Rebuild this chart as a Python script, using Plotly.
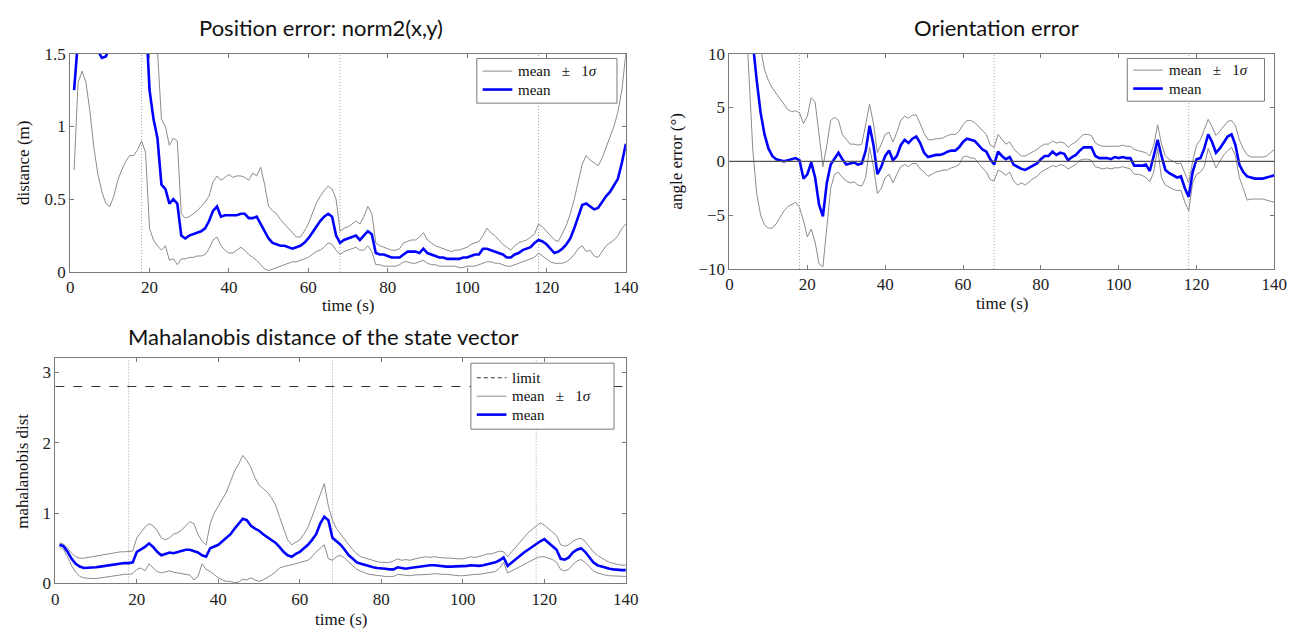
import plotly.graph_objects as go

# ---------------------------------------------------------------- data
TIME = list(range(1, 141))
EVENTS = [18, 68, 118]
LIMIT = 2.8

pos_mean = [1.25, 1.6, 1.75, 1.75, 1.7, 1.6, 1.52, 1.47, 1.48, 1.55,
            1.65, 1.75, 1.8, 1.85, 1.9, 1.95, 2.0, 2.0, 1.8, 1.25,
            1.05, 0.92, 0.6, 0.57, 0.47, 0.5, 0.47, 0.25, 0.23, 0.25,
            0.26, 0.27, 0.28, 0.3, 0.35, 0.42, 0.45, 0.38, 0.39, 0.39,
            0.39, 0.39, 0.4, 0.4, 0.37, 0.37, 0.38, 0.33, 0.27, 0.23,
            0.2, 0.19, 0.18, 0.18, 0.17, 0.16, 0.17, 0.18, 0.2, 0.23,
            0.27, 0.31, 0.35, 0.38, 0.4, 0.38, 0.25, 0.2, 0.22, 0.23,
            0.24, 0.25, 0.22, 0.25, 0.28, 0.26, 0.13, 0.12, 0.12, 0.11,
            0.1, 0.1, 0.1, 0.12, 0.14, 0.14, 0.14, 0.13, 0.16, 0.13,
            0.12, 0.11, 0.1, 0.1, 0.09, 0.09, 0.09, 0.09, 0.1, 0.1,
            0.11, 0.12, 0.12, 0.16, 0.16, 0.15, 0.14, 0.13, 0.12, 0.1,
            0.1, 0.12, 0.13, 0.15, 0.16, 0.17, 0.2, 0.22, 0.21, 0.19,
            0.16, 0.13, 0.14, 0.16, 0.19, 0.23, 0.3, 0.38, 0.46, 0.47,
            0.45, 0.43, 0.44, 0.48, 0.52, 0.55, 0.6, 0.64, 0.75, 0.88]
pos_upper = [3.0, 3.2, 3.3, 3.2, 3.0, 2.8, 2.6, 2.5, 2.5, 2.6,
             2.7, 2.8, 2.9, 3.0, 3.0, 3.1, 3.1, 3.1, 2.9, 2.5,
             2.0, 1.5, 1.05, 1.0, 0.87, 0.92, 0.9, 0.4, 0.37, 0.38,
             0.4, 0.42, 0.45, 0.48, 0.52, 0.62, 0.66, 0.63, 0.65, 0.67,
             0.65, 0.66, 0.66, 0.65, 0.63, 0.68, 0.66, 0.72, 0.6, 0.45,
             0.42, 0.4, 0.36, 0.33, 0.3, 0.27, 0.24, 0.24, 0.28, 0.33,
             0.4, 0.47, 0.52, 0.56, 0.59, 0.57, 0.5, 0.28, 0.3, 0.31,
             0.33, 0.35, 0.33, 0.38, 0.45, 0.4, 0.2, 0.18, 0.17, 0.16,
             0.15, 0.15, 0.16, 0.2, 0.21, 0.22, 0.22, 0.24, 0.27, 0.22,
             0.2, 0.18, 0.17, 0.16, 0.15, 0.14, 0.15, 0.15, 0.16, 0.17,
             0.19, 0.2, 0.21, 0.25, 0.3, 0.27, 0.25, 0.22, 0.19, 0.17,
             0.15, 0.18, 0.2, 0.21, 0.22, 0.24, 0.26, 0.33, 0.31, 0.28,
             0.25, 0.22, 0.21, 0.26, 0.32, 0.4, 0.5, 0.62, 0.74, 0.8,
             0.77, 0.75, 0.73, 0.78, 0.85, 0.92, 1.0, 1.1, 1.25, 1.5]
pos_lower = [0.7, 1.3, 1.38, 1.3, 1.1, 0.85, 0.67, 0.55, 0.47, 0.45,
             0.52, 0.63, 0.7, 0.76, 0.8, 0.8, 0.84, 0.9, 0.82, 0.3,
             0.22, 0.18, 0.15, 0.18, 0.08, 0.09, 0.05, 0.09, 0.09, 0.1,
             0.1, 0.11, 0.11, 0.12, 0.16, 0.22, 0.24, 0.18, 0.15, 0.13,
             0.13, 0.15, 0.17, 0.15, 0.12, 0.1, 0.08, 0.05, 0.02, 0.01,
             0.02, 0.03, 0.04, 0.05, 0.06, 0.07, 0.07, 0.08, 0.09, 0.1,
             0.12, 0.14, 0.15, 0.17, 0.2, 0.19, 0.15, 0.12, 0.14, 0.15,
             0.16, 0.17, 0.15, 0.15, 0.18, 0.14, 0.05, 0.05, 0.04, 0.04,
             0.04, 0.04, 0.05, 0.07, 0.07, 0.06, 0.06, 0.07, 0.08, 0.06,
             0.05, 0.05, 0.04, 0.04, 0.04, 0.04, 0.04, 0.03, 0.03, 0.04,
             0.04, 0.04, 0.05, 0.06, 0.07, 0.07, 0.06, 0.06, 0.05, 0.04,
             0.04, 0.05, 0.06, 0.07, 0.08, 0.09, 0.1, 0.13, 0.11, 0.09,
             0.07, 0.06, 0.06, 0.06, 0.07, 0.09, 0.12, 0.16, 0.18, 0.14,
             0.15, 0.11, 0.1, 0.14, 0.18, 0.2, 0.22, 0.25, 0.3, 0.33]

ang_mean = [30, 25, 20, 16, 13, 11, 7.5, 4.5, 2.5, 1.2,
            0.5, 0.2, 0.1, 0.0, 0.1, 0.2, 0.3, 0.1, -1.6, -1.2,
            -0.1, -1.5, -4.0, -5.1, -2.0, -0.3, 0.2, 0.8, 0.2, -0.3,
            -0.2, -0.1, -0.3, -0.2, 1.0, 3.3, 1.5, -1.2, -0.5, 0.5,
            1.0, 0.1, 0.5, 1.5, 2.0, 1.7, 2.1, 2.3, 1.7, 0.8,
            0.4, 0.5, 0.6, 0.6, 0.7, 0.9, 1.0, 1.0, 1.3, 1.8,
            2.1, 2.0, 1.9, 1.5, 1.1, 0.9, 0.2, -0.3, 0.9, 0.5,
            0.2, 0.4, -0.3, -0.5, -0.7, -0.8, -0.6, -0.4, -0.2, 0.2,
            0.5, 0.5, 0.9, 0.6, 0.8, 0.7, 0.1, 0.4, 0.6, 1.0,
            1.3, 1.3, 1.3, 0.5, 0.3, 0.3, 0.3, 0.2, 0.4, 0.3,
            0.4, 0.3, 0.3, -0.4, -0.4, -0.4, -0.3, -0.9, 0.5, 2.0,
            0.5, -0.8, -1.1, -1.3, -1.5, -1.4, -2.5, -3.3, -1.0, 0.2,
            0.3, 1.2, 2.5, 1.8, 0.8, 1.2, 1.8, 2.3, 2.5, 1.5,
            -0.3, -1.0, -1.4, -1.5, -1.6, -1.6, -1.6, -1.5, -1.4, -1.3]
ang_upper = [60, 50, 40, 30, 22, 18, 13, 10.5, 8.5, 7.5,
             6.8, 6.3, 5.8, 5.2, 4.8, 4.6, 4.7, 4.5, 3.5, 4.2,
             5.9, 5.5, 2.5, -0.5, 1.5, 3.8, 4.1, 3.8, 2.5, 2.0,
             1.6, 1.6, 1.5, 1.6, 3.5, 5.3, 3.5, 0.8, 1.6, 2.5,
             2.7, 1.8, 2.7, 3.8, 4.2, 4.0, 4.3, 4.3, 3.5, 2.6,
             2.0, 2.0, 2.1, 2.1, 2.2, 2.4, 2.5, 2.5, 2.8, 3.4,
             3.8, 3.8, 3.6, 3.2, 2.8, 2.5, 1.5, 1.3, 2.5, 2.0,
             1.6, 1.8, 1.2, 0.8, 0.5, 0.5, 0.7, 0.9, 1.1, 1.4,
             1.6, 1.6, 1.9, 1.7, 1.8, 1.7, 1.3, 1.6, 1.8, 2.2,
             2.5, 2.5, 2.4, 1.7, 1.5, 1.4, 1.4, 1.4, 1.4, 1.4,
             1.5, 1.4, 1.4, 1.1, 1.0, 0.9, 0.8, 0.5, 1.5, 3.4,
             1.6, 0.5, 0.2, 0.0, -0.2, -0.2, -1.2, -2.0, 0.0, 1.5,
             2.0, 3.0, 3.9, 3.2, 2.4, 2.8, 3.3, 3.7, 3.8, 3.3,
             2.0, 1.2, 0.6, 0.4, 0.4, 0.4, 0.4, 0.5, 0.8, 1.1]
ang_lower = [40, 35, 25, 15, 8, 1, -3, -5, -5.9, -6.2,
             -6.2, -5.8, -5.2, -4.6, -4.2, -4.0, -3.8, -4.3, -5.5, -7.0,
             -6.3, -7.5, -9.5, -9.8, -6.0, -2.5, -1.2, -1.0, -1.5, -1.8,
             -2.0, -1.9, -2.2, -2.3, -1.5, 1.3, -0.5, -3.0, -2.5, -1.5,
             -1.2, -2.0, -1.2, -0.5, -0.3, -0.5, -0.2, -0.2, -0.7, -1.0,
             -1.4, -1.2, -1.0, -0.9, -0.8, -0.8, -0.6, -0.5, -0.3, 0.4,
             0.5, 0.3, 0.3, -0.2, -0.6, -1.0, -1.7, -1.8, -0.8, -1.0,
             -1.3, -1.0, -1.8, -2.2, -2.0, -2.2, -1.9, -1.6, -1.4, -1.0,
             -0.8, -0.6, -0.4, -0.5, -0.3, -0.4, -0.7, -0.5, -0.3, 0.1,
             0.2, 0.2, 0.1, -0.5, -0.6, -0.7, -0.6, -0.7, -0.6, -0.6,
             -0.5, -0.6, -0.7, -1.2, -1.2, -1.3, -1.5, -1.9, -1.0, 1.2,
             -1.5, -2.2, -2.4, -2.6, -2.7, -2.7, -3.8, -4.6, -2.0, -1.2,
             -1.0, -0.5, 1.2, 0.3, -0.6, 0.0, 0.6, 1.0, 1.3, 0.5,
             -1.5, -2.5, -3.6, -3.5, -3.5, -3.5, -3.5, -3.6, -3.7, -3.8]

mah_mean = [0.55, 0.53, 0.45, 0.35, 0.28, 0.24, 0.22, 0.22, 0.22, 0.23,
            0.24, 0.25, 0.26, 0.27, 0.28, 0.28, 0.29, 0.29, 0.3, 0.45,
            0.48, 0.52, 0.57, 0.52, 0.45, 0.4, 0.42, 0.44, 0.43, 0.45,
            0.47, 0.48, 0.48, 0.46, 0.44, 0.4, 0.38, 0.5, 0.52, 0.55,
            0.6, 0.65, 0.7, 0.78, 0.85, 0.92, 0.9, 0.82, 0.78, 0.75,
            0.7, 0.66, 0.62, 0.58, 0.52, 0.45, 0.4, 0.38, 0.42, 0.45,
            0.5, 0.55, 0.62, 0.7, 0.85, 0.95, 0.9, 0.65, 0.6, 0.55,
            0.48, 0.4, 0.35, 0.3, 0.28, 0.26, 0.24, 0.23, 0.22, 0.22,
            0.21, 0.2, 0.2, 0.23, 0.22, 0.21, 0.22, 0.23, 0.24, 0.25,
            0.26, 0.26, 0.26, 0.25, 0.25, 0.24, 0.24, 0.24, 0.24, 0.24,
            0.25, 0.26, 0.25, 0.25, 0.26, 0.27, 0.28, 0.3, 0.33, 0.37,
            0.25, 0.3, 0.35, 0.4, 0.44, 0.48, 0.52, 0.57, 0.6, 0.63,
            0.58, 0.53, 0.48, 0.35, 0.34, 0.37, 0.44, 0.48, 0.5, 0.45,
            0.37, 0.3, 0.26, 0.24, 0.22, 0.21, 0.2, 0.19, 0.19, 0.19]
mah_upper = [0.58, 0.56, 0.5, 0.43, 0.38, 0.36, 0.36, 0.37, 0.38, 0.4,
             0.41, 0.42, 0.43, 0.44, 0.44, 0.45, 0.45, 0.45, 0.46, 0.65,
             0.72, 0.8, 0.85, 0.82, 0.75, 0.65, 0.62, 0.65, 0.7, 0.72,
             0.76, 0.82, 0.88, 0.85, 0.7, 0.6, 0.55, 0.85, 1.0, 1.1,
             1.2, 1.3, 1.45, 1.6, 1.7, 1.82, 1.75, 1.65, 1.5, 1.4,
             1.35, 1.3, 1.22, 1.12, 0.95, 0.78, 0.62, 0.55, 0.58, 0.62,
             0.7, 0.8, 0.95, 1.1, 1.25, 1.42, 1.1, 0.9, 0.78, 0.7,
             0.62, 0.55, 0.48, 0.42, 0.38, 0.36, 0.34, 0.32, 0.31, 0.3,
             0.3, 0.3, 0.32, 0.35, 0.33, 0.34, 0.33, 0.35, 0.36, 0.37,
             0.38, 0.37, 0.38, 0.37, 0.36, 0.36, 0.36, 0.35, 0.35, 0.35,
             0.36, 0.38, 0.37, 0.38, 0.4, 0.42, 0.42, 0.44, 0.46, 0.45,
             0.38, 0.45, 0.52, 0.58, 0.65, 0.72, 0.77, 0.82, 0.86, 0.83,
             0.78, 0.72, 0.68, 0.55, 0.53, 0.55, 0.6, 0.63, 0.64, 0.6,
             0.52, 0.45, 0.4, 0.36, 0.33, 0.3, 0.28, 0.27, 0.26, 0.26]
mah_lower = [0.52, 0.48, 0.38, 0.25, 0.16, 0.1, 0.08, 0.07, 0.07, 0.07,
             0.08, 0.09, 0.1, 0.11, 0.12, 0.13, 0.13, 0.13, 0.14, 0.2,
             0.22, 0.18, 0.28, 0.22, 0.17, 0.15, 0.17, 0.18, 0.16, 0.15,
             0.14, 0.14, 0.12, 0.05, 0.1, 0.28, 0.2, 0.17, 0.12, 0.08,
             0.05, 0.03, 0.03, 0.01, 0.02, 0.06, 0.05, 0.08, 0.05, 0.03,
             0.05, 0.08, 0.12, 0.16, 0.22, 0.24, 0.25, 0.26, 0.28, 0.3,
             0.32, 0.33, 0.38, 0.45, 0.5, 0.55, 0.35, 0.33, 0.38, 0.4,
             0.36, 0.3, 0.25, 0.2, 0.17, 0.15, 0.13, 0.12, 0.11, 0.11,
             0.1, 0.1, 0.1, 0.13, 0.12, 0.11, 0.11, 0.12, 0.12, 0.13,
             0.13, 0.13, 0.14, 0.13, 0.13, 0.13, 0.12, 0.12, 0.11, 0.11,
             0.12, 0.13, 0.13, 0.13, 0.14, 0.15, 0.16, 0.17, 0.22, 0.3,
             0.15, 0.18, 0.22, 0.25, 0.27, 0.3, 0.33, 0.36, 0.38, 0.38,
             0.36, 0.34, 0.3, 0.2, 0.18, 0.2, 0.27, 0.32, 0.34, 0.3,
             0.24, 0.18, 0.15, 0.13, 0.12, 0.11, 0.11, 0.1, 0.1, 0.1]

X_TICKS = [0, 20, 40, 60, 80, 100, 120, 140]

# ---------------------------------------------------------------- style
W, H = 1315, 642
SERIF = "Liberation Serif"
SANS = "Lato"
BLUE = "#0000ff"
GREY = "#8c8c8c"
FRAME = "#7a7a7a"
NB = "\u00a0"
SIGMA_LABEL = f"mean{NB*3}±{NB*3}1<i>σ</i>"


def dom_x(left, right):
    return [left / W, right / W]


def dom_y(top, bottom):
    return [1 - bottom / H, 1 - top / H]


fig = go.Figure()


def add_band(t, upper, lower, mean, xa, ya):
    fig.add_trace(go.Scatter(x=t, y=upper, mode="lines", name="mean + 1σ",
                             line=dict(color=GREY, width=1), xaxis=xa, yaxis=ya))
    fig.add_trace(go.Scatter(x=t, y=lower, mode="lines", name="mean − 1σ",
                             line=dict(color=GREY, width=1), xaxis=xa, yaxis=ya))
    fig.add_trace(go.Scatter(x=t, y=mean, mode="lines", name="mean",
                             line=dict(color=BLUE, width=2.6), xaxis=xa, yaxis=ya))


add_band(TIME, pos_upper, pos_lower, pos_mean, "x", "y")
add_band(TIME, ang_upper, ang_lower, ang_mean, "x2", "y2")
fig.add_trace(go.Scatter(x=[0, 140], y=[LIMIT, LIMIT], mode="lines", name="limit",
                         line=dict(color="#333333", width=1.2, dash="dash"),
                         xaxis="x3", yaxis="y3"))
add_band(TIME, mah_upper, mah_lower, mah_mean, "x3", "y3")

axis_common = dict(showline=True, linecolor=FRAME, linewidth=1, mirror="ticks",
                   ticks="inside", ticklen=4, tickcolor=FRAME, showgrid=False,
                   zeroline=False, tickfont=dict(family=SERIF, size=17, color="#222"))

fig.update_layout(
    width=W, height=H, margin=dict(l=0, r=0, t=0, b=0),
    paper_bgcolor="white", plot_bgcolor="white", showlegend=False,
    font=dict(family=SERIF, size=17, color="#222"),
    xaxis=dict(domain=dom_x(67, 630), range=[0, 140], tickvals=X_TICKS, anchor="y", **axis_common),
    yaxis=dict(domain=dom_y(46, 271), range=[0, 1.5], tickvals=[0, 0.5, 1, 1.5],
               ticktext=["0", "0.5", "1", "1.5"], anchor="x", **axis_common),
    xaxis2=dict(domain=dom_x(735, 1287), range=[0, 140], tickvals=X_TICKS, anchor="y2", **axis_common),
    yaxis2=dict(domain=dom_y(46, 268), range=[-10, 10], tickvals=[-10, -5, 0, 5, 10],
                ticktext=["\u221210", "\u22125", "0", "5", "10"], anchor="x2", **axis_common),
    xaxis3=dict(domain=dom_x(52, 630), range=[0, 140], tickvals=X_TICKS, anchor="y3", **axis_common),
    yaxis3=dict(domain=dom_y(360, 592), range=[0, 3.2], tickvals=[0, 1, 2, 3], anchor="x3", **axis_common),
)

shapes = []
ann = []

# event markers (dotted verticals) and reference lines
for xa, ya in (("x", "y"), ("x2", "y2"), ("x3", "y3")):
    for ev in EVENTS:
        shapes.append(dict(type="line", xref=xa, yref=f"{ya} domain", x0=ev, x1=ev, y0=0, y1=1,
                           line=dict(color="#a0a0a0", width=1, dash="1px,2px"), layer="below"))
shapes.append(dict(type="line", xref="x2 domain", yref="y2", x0=0, x1=1, y0=0, y1=0,
                   line=dict(color="#555555", width=1.2)))


def px_shape(kind, x0, y0, x1, y1, line, fill=None):
    d = dict(type=kind, xref="paper", yref="paper", x0=x0 / W, x1=x1 / W,
             y0=1 - y0 / H, y1=1 - y1 / H, line=line, layer="above")
    if fill:
        d["fillcolor"] = fill
    shapes.append(d)


def label(text, x, y, size, family, angle=0, anchor="center"):
    ann.append(dict(text=text, x=x / W, y=1 - y / H, xref="paper", yref="paper",
                    showarrow=False, textangle=angle, xanchor=anchor, yanchor="middle",
                    font=dict(family=family, size=size, color="#111")))


# legend boxes
def legend_box(x0, y0, x1, y1, entries):
    px_shape("rect", x0, y0, x1, y1, dict(color=FRAME, width=1), fill="white")
    for text, y, line in entries:
        px_shape("line", x0 + 6, y, x0 + 36, y, line)
        label(text, x0 + 40, y, 15, SERIF, anchor="left")


grey_line = dict(color=GREY, width=1)
blue_line = dict(color=BLUE, width=2.6)
dash_line = dict(color="#333333", width=1.2, dash="4px,3px")

legend_box(479, 51, 621, 97, [(SIGMA_LABEL, 64, grey_line), ("mean", 83, blue_line)])
legend_box(1138, 51, 1277, 95, [(SIGMA_LABEL, 63, grey_line), ("mean", 82, blue_line)])
legend_box(473, 365, 618, 433, [("limit", 380, dash_line), (SIGMA_LABEL, 399, grey_line),
                                 ("mean", 418, blue_line)])

# titles and axis labels
label("Position error: norm2(x,y)", 321, 19, 22, SANS)
label("Orientation error", 1005, 19, 22, SANS)
label("Mahalanobis distance of the state vector", 323, 338, 22, SANS)
label("time (s)", 349, 306, 17, SERIF)
label("time (s)", 1011, 303, 17, SERIF)
label("time (s)", 341, 629, 17, SERIF)
label("distance (m)", 20, 158, 17, SERIF, -90)
label("angle error (°)", 681, 157, 17, SERIF, -90)
label("mahalanobis dist", 19, 476, 17, SERIF, -90)

fig.update_layout(shapes=shapes, annotations=ann)

fig.write_html("out.html")
